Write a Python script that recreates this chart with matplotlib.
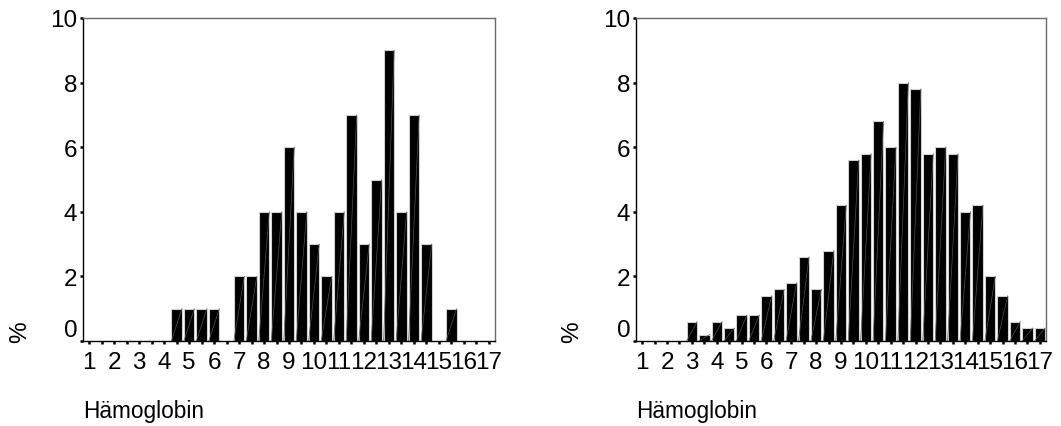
import numpy as np
import matplotlib
matplotlib.use('Agg')
import matplotlib.pyplot as plt

plt.rcParams['font.family'] = ['Liberation Sans', 'DejaVu Sans']

# bin positions (half-unit steps) and percentages
bins = np.arange(1, 17.5, 0.5)
left_pct = [0, 0, 0, 0, 0, 0, 0, 1, 1, 1, 1, 0, 2, 2, 4, 4, 6,
            4, 3, 2, 4, 7, 3, 5, 9, 4, 7, 3, 0, 1, 0, 0, 0]
right_pct = [0, 0, 0, 0, 0.6, 0.2, 0.6, 0.4, 0.8, 0.8, 1.4, 1.6, 1.8, 2.6, 1.6, 2.8, 4.2,
             5.6, 5.8, 6.8, 6.0, 8.0, 7.8, 5.8, 6.0, 5.8, 4.0, 4.2, 2.0, 1.4, 0.6, 0.4, 0.4]
x_labels = [str(i) for i in range(1, 18)]
y_ticks = [0, 2, 4, 6, 8, 10]
xlabel = 'Hämoglobin'
ylabel = '%'

fig = plt.figure(figsize=(10.61, 4.27), dpi=100)
W, H = 1061, 427
FS = 17.5

def panel(rect, values, pct_x):
    ax = fig.add_axes(rect)
    w = 0.42
    for x, v in zip(bins, values):
        if v <= 0:
            continue
        ax.bar(x, v, width=w, color='black', edgecolor='#d0d0d0', linewidth=0.8, zorder=2)
        # faint diagonal inside each bar
        ax.plot([x - w / 2, x + w / 2], [0, v], color='#505050', lw=0.5, zorder=3)
    ax.set_xlim(0.75, 17.25)
    ax.set_ylim(0, 10)
    ax.set_xticks(range(1, 18))
    ax.set_xticklabels(x_labels)
    ax.set_xticks(bins, minor=True)
    ax.set_yticks(y_ticks)
    ax.tick_params(axis='x', which='both', direction='out', length=2.5, width=1.8,
                   pad=5, labelsize=FS)
    ax.tick_params(axis='y', direction='out', length=2.5, width=1.8, pad=1.5, labelsize=FS)
    for s in ['top', 'right']:
        ax.spines[s].set_color('#6a6a6a')
        ax.spines[s].set_linewidth(1.0)
    ax.spines['left'].set_linewidth(1.0)
    ax.spines['bottom'].set_linewidth(1.0)
    ax.spines['bottom'].set_zorder(4)
    ax.get_yticklabels()[0].set_verticalalignment('bottom')
    fig.text(pct_x / W, 1 - 332 / H, ylabel, rotation=90, fontsize=FS,
             ha='center', va='center')
    fig.text(rect[0], 1 - 412 / H, xlabel, fontsize=16.3, ha='left', va='center')
    return ax

bottom = 1 - 342 / H
height = 323 / H
panel([83 / W, bottom, 412 / W, height], left_pct, 20)
panel([636 / W, bottom, 410 / W, height], right_pct, 572)

fig.savefig('out.png', dpi=100)
